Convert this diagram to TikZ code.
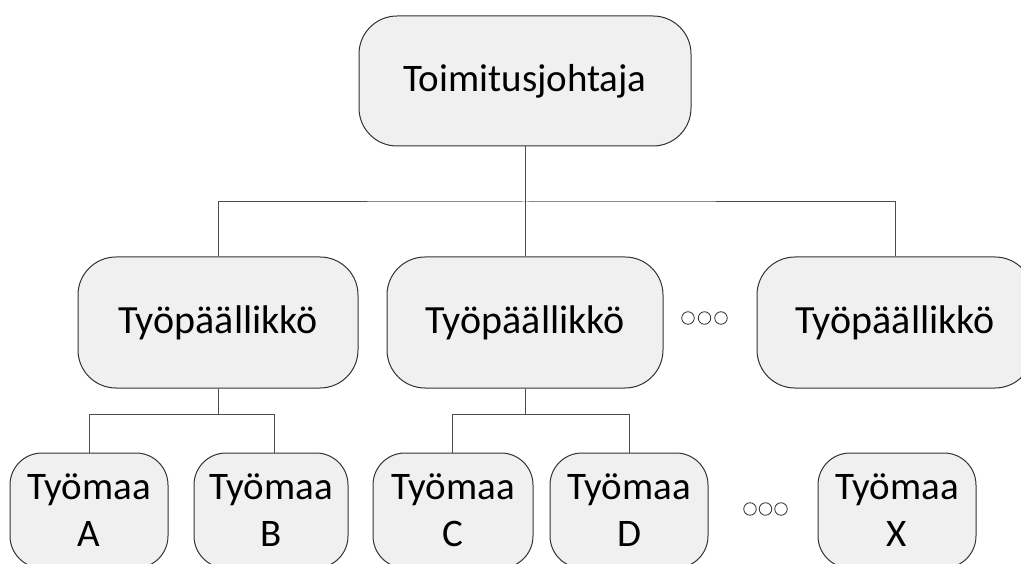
\documentclass[tikz,border=0pt]{standalone}
\usepackage{fontspec}
\setmainfont{Carlito}
\begin{document}
\begin{tikzpicture}[x=1pt,y=-1pt,
  box/.style={draw=black!80, fill=black!6, line width=1pt, rounded corners=38pt,
    minimum width=276pt, minimum height=131pt, inner sep=0pt,
    font=\fontsize{40}{44}\selectfont},
  small/.style={box, rounded corners=32pt, minimum width=158pt, minimum height=115pt,
    align=center, font=\fontsize{39}{47}\selectfont},
  link/.style={draw=black!70, line width=1pt},
  dot/.style={circle, draw=black!80, line width=0.8pt, minimum size=12.5pt, inner sep=0pt}]
\useasboundingbox (0,0) rectangle (1021,564);
\clip (0,0) rectangle (1021,564);

% chief executive
\node[box, minimum width=332pt, minimum height=130pt, font=\fontsize{39}{44}\selectfont] (ceo) at (525,81) {Toimitusjohtaja};

% site managers
\node[box, minimum width=280pt] (m1) at (218,322.5) {Työpäällikkö};
\node[box] (m2) at (525,322.5) {Työpäällikkö};
\node[box] (m3) at (895,322.5) {Työpäällikkö};

% work sites
\node[small] (a) at (89,510.5) {Työmaa\\A};
\node[small, minimum width=154pt] (b) at (271,510.5) {Työmaa\\B};
\node[small, minimum width=160pt] (c) at (453,510.5) {Työmaa\\C};
\node[small] (d) at (629,510.5) {Työmaa\\D};
\node[small] (x) at (897,510.5) {Työmaa\\X};

% ellipsis marks
\node[dot] (e1) at (688,318) {};
\node[dot] (e2) at (704.5,318) {};
\node[dot] (e3) at (721,318) {};
\node[dot] (f1) at (750,509) {};
\node[dot] (f2) at (765.5,509) {};
\node[dot] (f3) at (781,509) {};

% connectors
\coordinate (bus0) at (525,202);
\coordinate (bus1) at (218,414.5);
\coordinate (bus2) at (525,414.5);
\draw[link] (ceo) -- (bus0);
\draw[link] (m1.north) |- (bus0) -| (m3.north);
\draw[link] (bus0) -- (m2.north);
\draw[link] (m1) -- (bus1);
\draw[link] (a.north) |- (bus1) -| ([xshift=3pt]b.north);
\draw[link] ([xshift=-1pt]c.north) |- (bus2) -| (d.north);
\draw[link] (m2) -- (bus2);
\end{tikzpicture}
\end{document}
